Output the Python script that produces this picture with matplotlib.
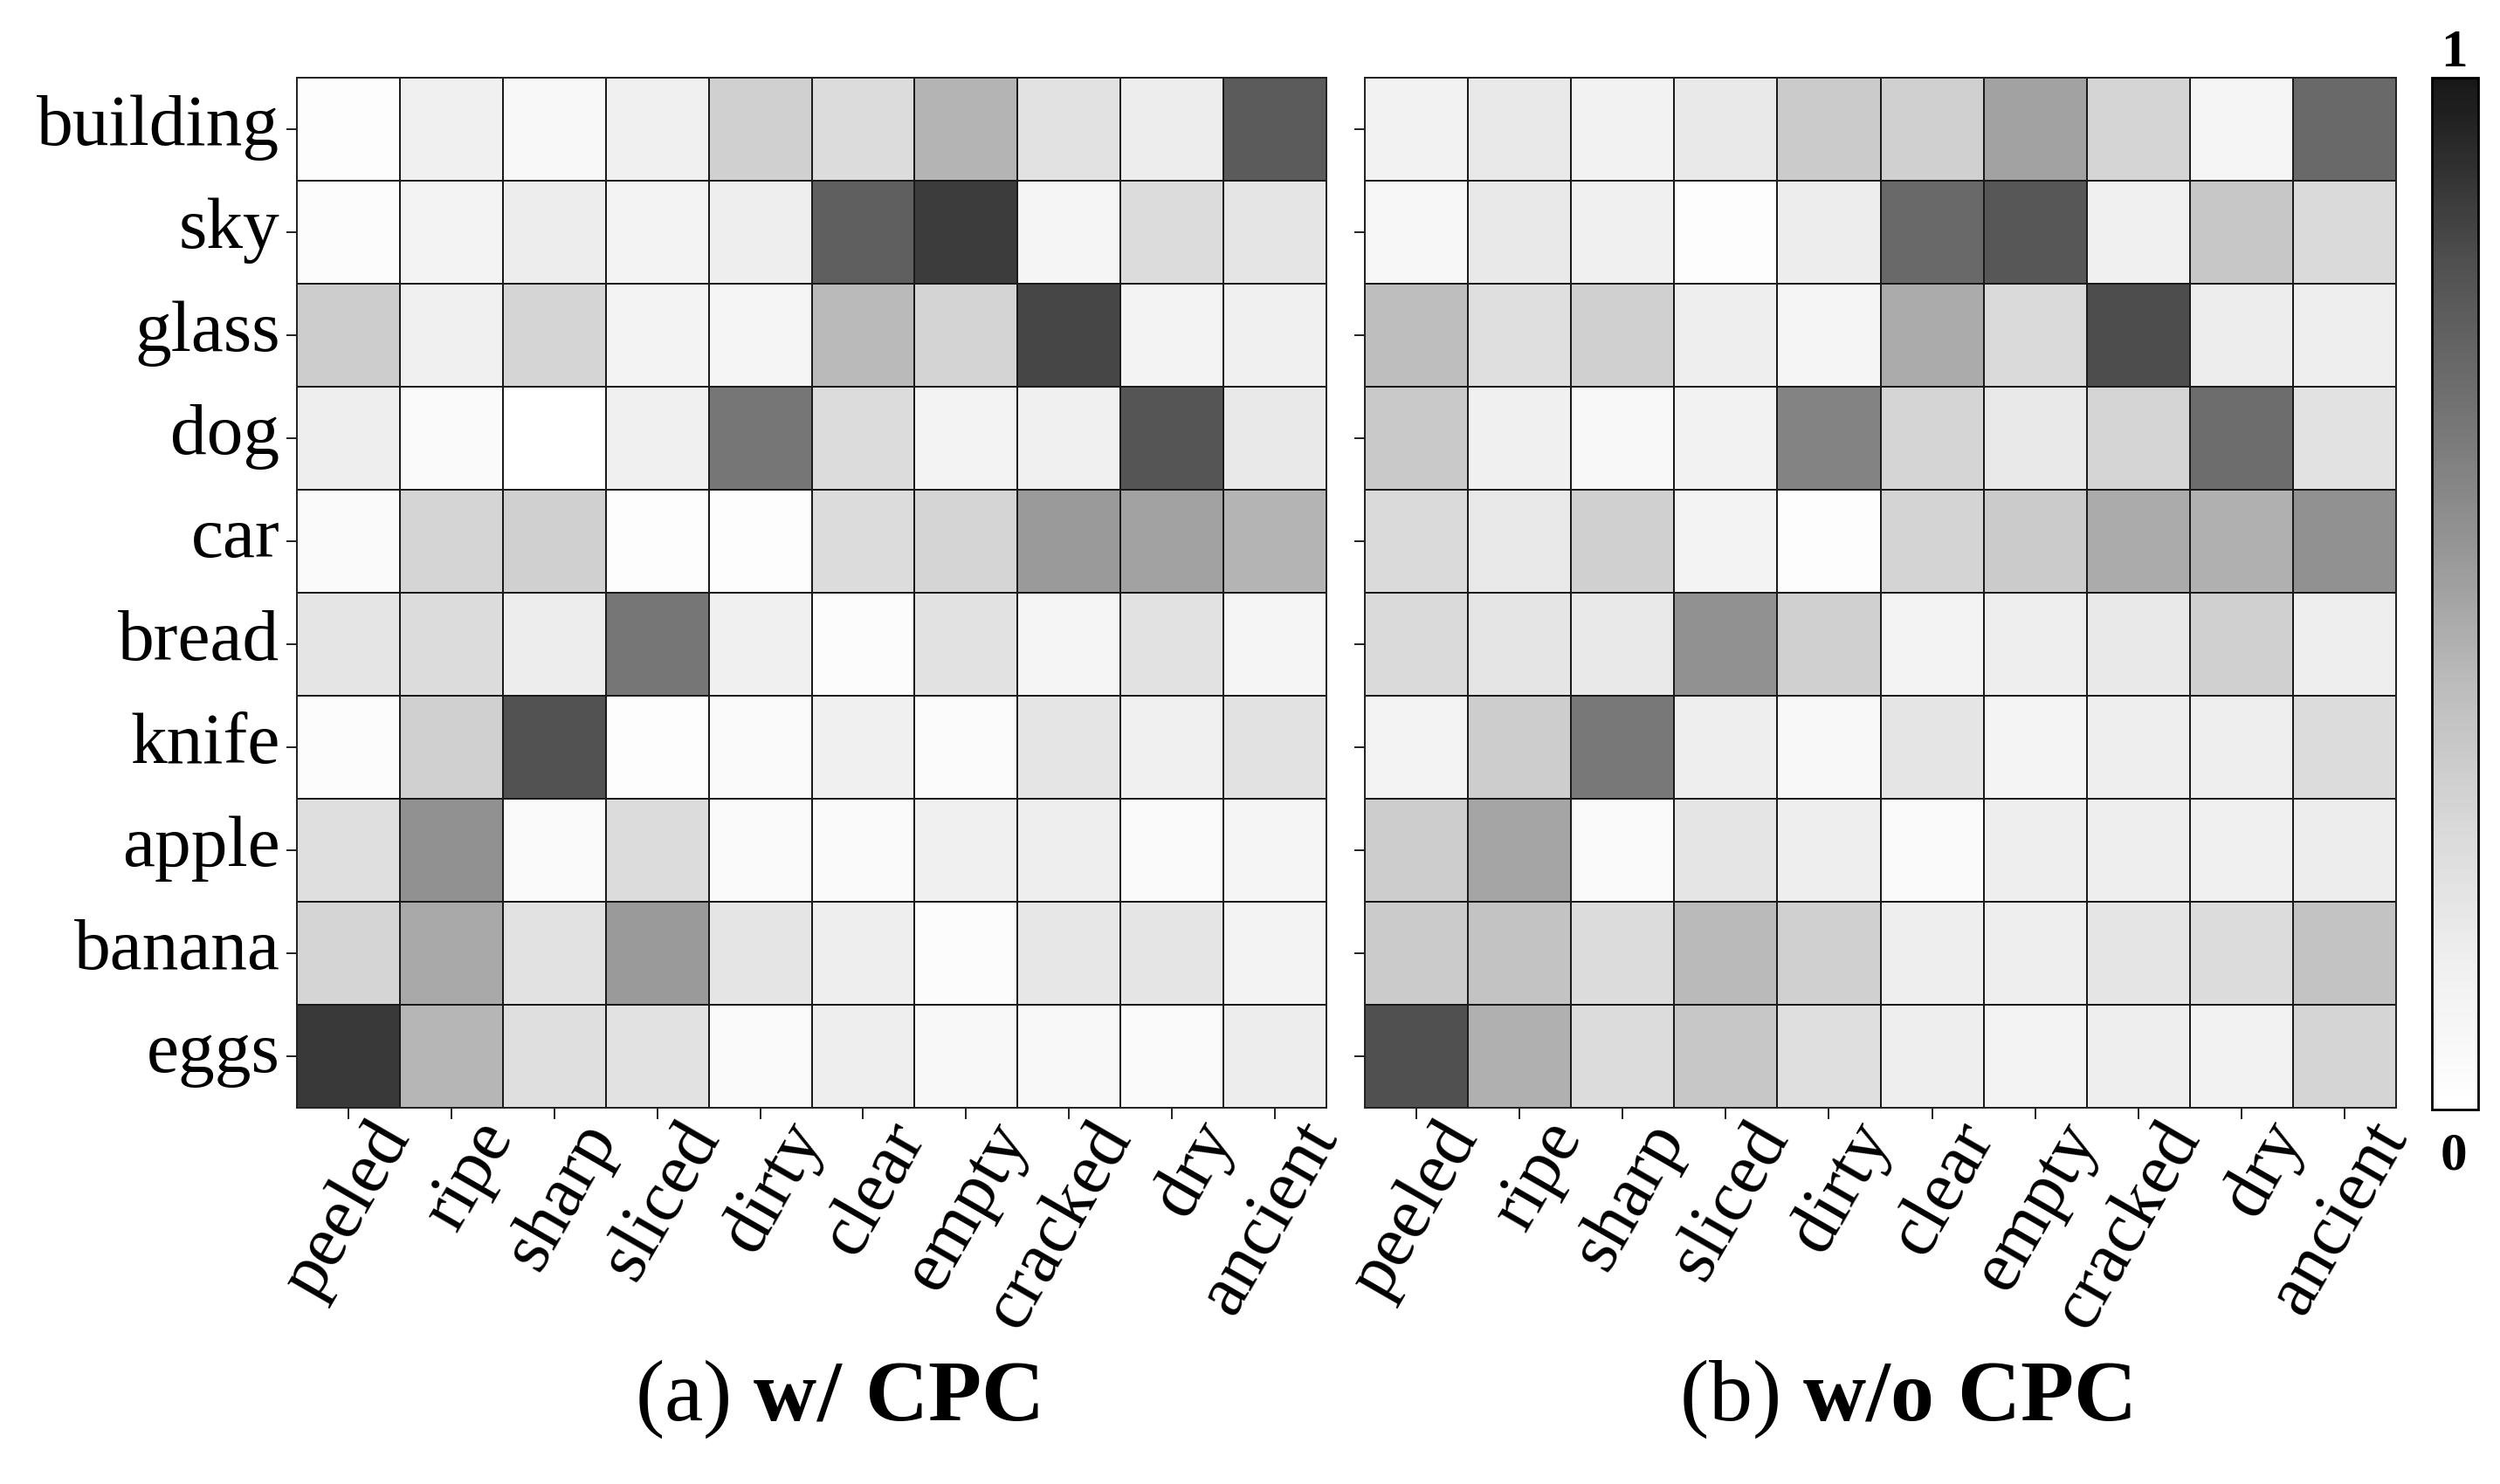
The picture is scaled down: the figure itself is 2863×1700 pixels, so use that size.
import numpy as np
import matplotlib
matplotlib.use("Agg")
import matplotlib.pyplot as plt
from matplotlib.colors import LinearSegmentedColormap
from matplotlib.transforms import ScaledTranslation

plt.rcParams['font.family'] = ['Liberation Serif', 'DejaVu Serif']
plt.rcParams['mathtext.fontset'] = 'custom'
plt.rcParams['mathtext.rm'] = 'Liberation Serif'
plt.rcParams['mathtext.bf'] = 'Liberation Serif:bold'

nouns = ['building', 'sky', 'glass', 'dog', 'car', 'bread', 'knife', 'apple', 'banana', 'eggs']
adjectives = ['peeled', 'ripe', 'sharp', 'sliced', 'dirty', 'clear', 'empty', 'cracked', 'dry', 'ancient']

with_cpc = [
    [.02, .14, .07, .14, .32, .26, .44, .22, .16, .78],
    [.03, .11, .16, .11, .15, .76, .88, .09, .26, .20],
    [.33, .14, .29, .11, .09, .42, .30, .85, .11, .14],
    [.15, .05, .01, .14, .67, .26, .11, .14, .80, .18],
    [.05, .29, .32, .02, .02, .26, .29, .53, .50, .44],
    [.20, .26, .16, .67, .14, .03, .22, .09, .22, .09],
    [.03, .32, .81, .02, .05, .14, .04, .20, .14, .22],
    [.24, .56, .05, .26, .05, .05, .14, .15, .05, .09],
    [.29, .48, .22, .53, .20, .15, .03, .19, .20, .11],
    [.89, .43, .24, .22, .05, .15, .07, .07, .05, .16],
]
without_cpc = [
    [.12, .18, .12, .18, .34, .32, .50, .29, .09, .72],
    [.08, .18, .14, .02, .16, .72, .79, .14, .36, .27],
    [.40, .24, .32, .15, .09, .47, .27, .83, .16, .15],
    [.35, .14, .07, .12, .62, .29, .18, .29, .70, .22],
    [.27, .18, .32, .11, .02, .30, .34, .47, .45, .56],
    [.27, .20, .18, .56, .32, .11, .15, .18, .32, .15],
    [.11, .33, .66, .15, .07, .20, .10, .15, .15, .25],
    [.33, .49, .05, .20, .15, .05, .15, .15, .14, .16],
    [.34, .38, .26, .42, .32, .15, .15, .20, .26, .38],
    [.82, .45, .25, .36, .24, .15, .11, .15, .12, .29],
]
panel_titles = [r'(a) $\mathbf{w/}\;\mathbf{CPC}$', r'(b) $\mathbf{w/o}\;\mathbf{CPC}$']

W, H = 2863, 1700
fig = plt.figure(figsize=(W / 100, H / 100), dpi=100)

# truncated Greys so the top of the scale stops at dark grey
cmap = LinearSegmentedColormap.from_list('greys_cut', plt.get_cmap('Greys')(np.linspace(0, 0.92, 256)))


def box(x0, y0, x1, y1):
    return [x0 / W, 1 - y1 / H, (x1 - x0) / W, (y1 - y0) / H]


ax1 = fig.add_axes(box(340, 89, 1519, 1269))
ax2 = fig.add_axes(box(1563, 89, 2744, 1269))
cax = fig.add_axes(box(2785, 89, 2838, 1271))

for ax, vals, title, cx in zip([ax1, ax2], [with_cpc, without_cpc], panel_titles, [958, 2182]):
    mesh = ax.pcolormesh(np.array(vals), cmap=cmap, vmin=0, vmax=1,
                         edgecolors='#1a1a1a', linewidth=1.1)
    ax.invert_yaxis()
    ax.set_xticks(np.arange(len(adjectives)) + 0.5)
    ax.set_xticklabels(adjectives, rotation=60, ha='right', va='center',
                       rotation_mode='anchor', fontsize=60)
    ax.set_yticks(np.arange(len(nouns)) + 0.5)
    ax.tick_params(axis='both', length=9, width=1.3, color='#111111')
    ax.tick_params(axis='x', pad=7)
    ax.tick_params(axis='y', pad=5)
    # labels end to the right of their tick in the original
    shift = ScaledTranslation(39 / 72, 0, fig.dpi_scale_trans)
    for t in ax.get_xticklabels():
        t.set_transform(t.get_transform() + shift)
    for s in ax.spines.values():
        s.set_linewidth(1.4)
        s.set_color('#222222')
    fig.text(cx / W, 1 - 1627 / H, title, ha='center', va='baseline', fontsize=72)

ax1.set_yticklabels(nouns, fontsize=60)
ax2.set_yticklabels([])
up = ScaledTranslation(0, 7.5 / 72, fig.dpi_scale_trans)
for t in ax1.get_yticklabels():
    t.set_transform(t.get_transform() + up)

cb = fig.colorbar(mesh, cax=cax)
cb.set_ticks([])
cb.outline.set_linewidth(2)
fig.text(2810 / W, 1 - 76 / H, '1', ha='center', va='baseline', fontsize=44, fontweight='bold')
fig.text(2810 / W, 1 - 1339 / H, '0', ha='center', va='baseline', fontsize=44, fontweight='bold')

fig.savefig('out.png', dpi=100, facecolor='white')
